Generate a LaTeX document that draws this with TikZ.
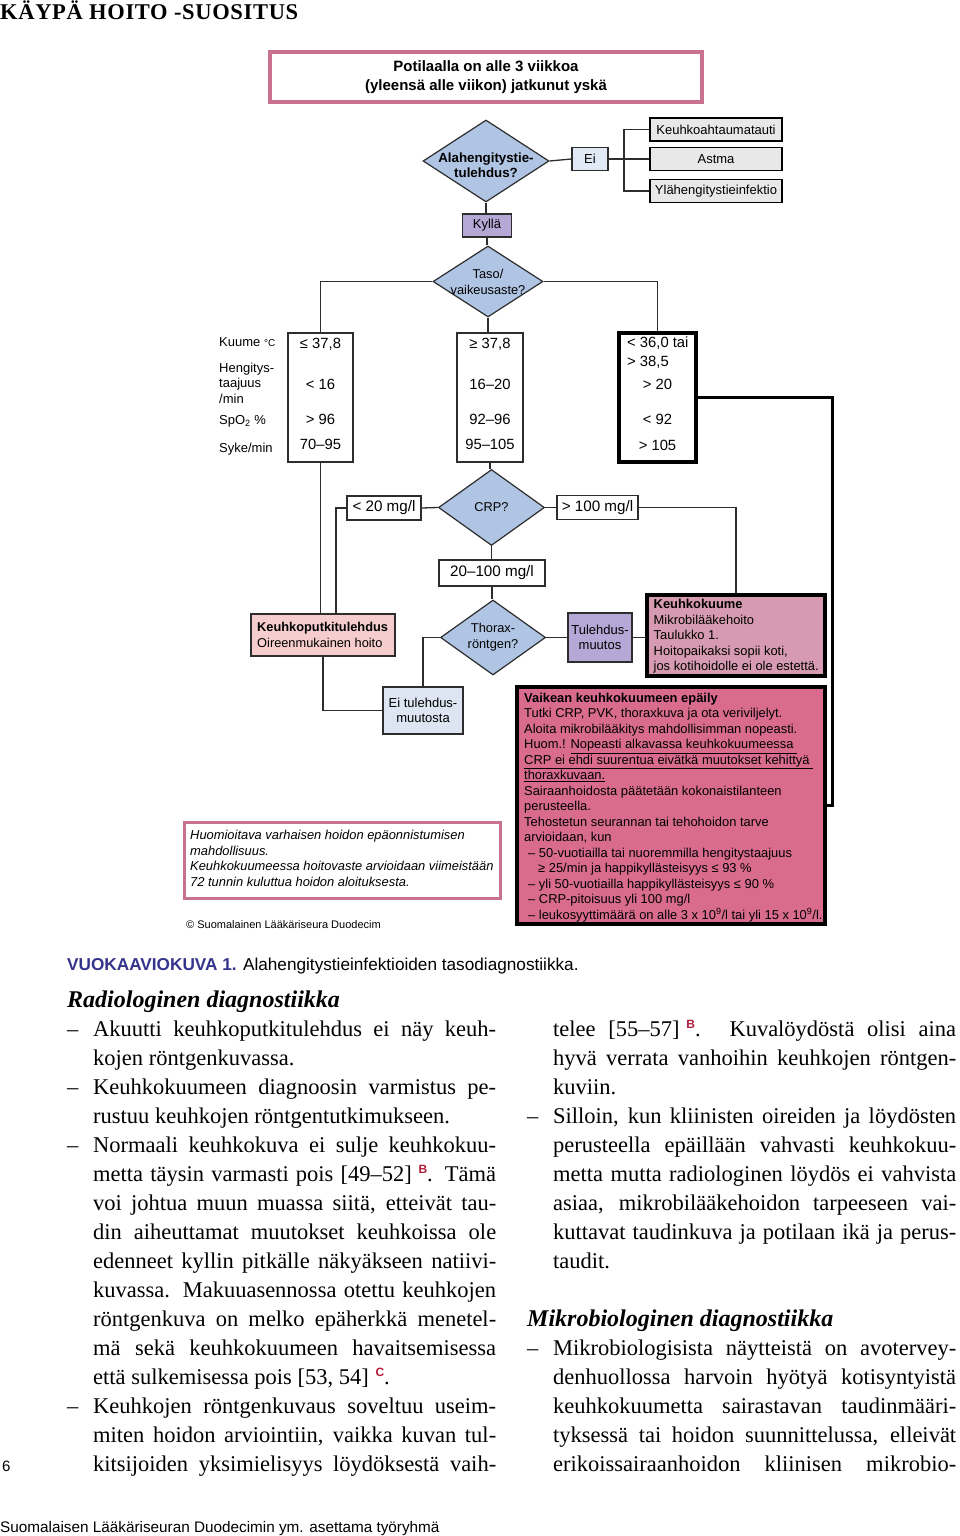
\documentclass[tikz,border=0pt]{standalone}
\usepackage{fontspec}
\setmainfont{Liberation Serif}
\setsansfont{Liberation Sans}
\newfontfamily\titlefont[LetterSpace=3]{Liberation Serif}
\usetikzlibrary{shapes.geometric}
\newcommand\fsz[2]{\fontsize{#1pt}{#2pt}\selectfont}
\definecolor{linec}{RGB}{45,45,45}
\definecolor{pinkb}{RGB}{201,114,143}
\definecolor{diafill}{RGB}{176,197,228}
\definecolor{eifill}{RGB}{226,233,246}
\definecolor{grayf}{RGB}{232,232,232}
\definecolor{purp}{RGB}{181,168,214}
\definecolor{kpfill}{RGB}{245,205,205}
\definecolor{eitfill}{RGB}{221,229,243}
\definecolor{kkfill}{RGB}{214,155,177}
\definecolor{vkfill}{RGB}{217,108,142}
\definecolor{capblue}{RGB}{52,52,140}
\definecolor{refred}{RGB}{176,30,60}
\newcommand\refsup[1]{\hspace{0.3em}\raisebox{8pt}{\sffamily\bfseries\fsz{12}{12}\textcolor{refred}{#1}}}
\newcommand\jline[3]{\node[bodyt] (#1) at (#2) {\makebox[403pt][s]{#3}};}
\newcommand\nline[3]{\node[bodyt] (#1) at (#2) {#3};}
\begin{document}
\begin{tikzpicture}[x=1pt,y=-1pt,
  every node/.style={inner sep=0pt},
  conn/.style={draw=linec, line width=1.3pt},
  box/.style={draw=linec, line width=1.2pt, font=\sffamily\fsz{13}{15.5}, align=center},
  dia/.style={diamond, draw=linec, line width=1.2pt, fill=diafill},
  dtext/.style={font=\sffamily\fsz{12.8}{16}, align=center},
  btext/.style={anchor=west, align=left},
  lab/.style={anchor=west, font=\sffamily\fsz{13}{15.5}, text height=0.8em, text depth=0.16em},
  val/.style={font=\sffamily\fsz{14.8}{16}, text height=0.75em, text depth=0.15em},
  mg/.style={box, font=\sffamily\fsz{15.2}{16}},
  bodyt/.style={anchor=base west, font=\fsz{22.5}{29}},
  head/.style={anchor=base west, font=\bfseries\itshape\fsz{24}{29}}
]
\useasboundingbox (0,0) rectangle (960,1536);
\fill[white] (0,0) rectangle (960,1536);

% title
\node[anchor=base west, font=\titlefont\bfseries\fsz{22.5}{25}] (title) at (0,20) {KÄYPÄ HOITO -SUOSITUS};

% top box
\node[box, draw=pinkb, line width=3.5pt, minimum width=432pt, minimum height=50pt, font=\sffamily\bfseries\fsz{15}{19}] (top) at (486,77) {Potilaalla on alle 3 viikkoa\\(yleensä alle viikon) jatkunut yskä};

% first decision
\node[dia, minimum width=126pt, minimum height=82pt] (d1) at (486,161) {};
\node[dtext, font=\sffamily\bfseries\fsz{13.3}{15}] (d1t) at (486,165.5) {Alahengitystie-\\tulehdus?};
\node[box, fill=eifill, minimum width=36pt, minimum height=23pt] (ei) at (590,159) {Ei};
\node[box, fill=grayf, line width=1.5pt, draw=black, minimum width=132pt, minimum height=23pt] (k1) at (716,129.5) {Keuhkoahtaumatauti};
\node[box, fill=grayf, line width=1.5pt, draw=black, minimum width=132pt, minimum height=23pt] (k2) at (716,159) {Astma};
\node[box, fill=grayf, line width=1.5pt, draw=black, minimum width=132pt, minimum height=23pt] (k3) at (716,191) {Ylähengitystieinfektio};
\coordinate (br) at (624,159);
\draw[conn] (d1.east) -- (ei.west);
\draw[conn] (ei.east) -- (k2.west);
\draw[conn] (k1.west) -| (br) |- (k3.west);

\node[box, fill=purp, minimum width=49pt, minimum height=23pt] (kylla) at (487,225.5) {Kyllä};
\draw[conn] (d1.south) -- (d1.south |- kylla.north);

% second decision
\node[dia, minimum width=110pt, minimum height=71pt] (d2) at (488,281.5) {};
\node[dtext] (d2t) at (488,281.5) {Taso/\\vaikeusaste?};
\draw[conn] (kylla.south) -- (kylla.south |- d2.north);

% value boxes
\node[box, minimum width=65pt, minimum height=129pt] (b1) at (320.5,397.5) {};
\node[box, minimum width=66pt, minimum height=129pt] (b2) at (490,397.5) {};
\node[box, draw=black, line width=3.5pt, minimum width=77pt, minimum height=129pt] (b3) at (657.5,397.5) {};
\draw[conn] (d2.west) -| (b1.north);
\draw[conn] (d2.east) -| (b3.north);
\draw[conn] (d2.south) -- (d2.south |- b2.north);

\node[lab] (lk) at (219,343) {Kuume {\fsz{10}{10}°C}};
\node[lab] (lh1) at (219,369) {Hengitys-};
\node[lab] (lh2) at (219,384) {taajuus};
\node[lab] (lh3) at (219,400) {/min};
\node[lab] (ls) at (219,421) {SpO\textsubscript{2} \%};
\node[lab] (lsy) at (219,449) {Syke/min};

\node[val] (v11) at (320.5,345) {≤ 37,8};
\node[val] (v12) at (320.5,386) {< 16};
\node[val] (v13) at (320.5,421) {> 96};
\node[val] (v14) at (320.5,446) {70–95};
\node[val] (v21) at (490,345) {≥ 37,8};
\node[val] (v22) at (490,386) {16–20};
\node[val] (v23) at (490,421) {92–96};
\node[val] (v24) at (490,446) {95–105};
\node[val, anchor=west] (v31) at (627,344) {< 36,0 tai};
\node[val, anchor=west] (v32) at (627,363) {> 38,5};
\node[val] (v33) at (657.5,386) {> 20};
\node[val] (v34) at (657.5,421) {< 92};
\node[val] (v35) at (657.5,447) {> 105};

% CRP
\node[dia, minimum width=106pt, minimum height=76pt] (crp) at (491.5,507.5) {};
\node[dtext] (crpt) at (491.5,507.5) {CRP?};
\draw[conn] (b2.south) -- (b2.south |- crp.north);
\node[mg, minimum width=74pt, minimum height=24pt] (lt20) at (384,508) {< 20 mg/l};
\node[mg, minimum width=81pt, minimum height=24pt] (gt100) at (597.5,507.5) {> 100 mg/l};
\node[mg, minimum width=106pt, minimum height=26pt] (mid) at (492,573) {20–100 mg/l};
\draw[conn] (crp.west) -- (lt20.east);
\draw[conn] (crp.east) -- (gt100.west);
\draw[conn] (crp.south) -- (crp.south |- mid.north);

% thorax
\node[dia, minimum width=105pt, minimum height=75pt] (thx) at (493,637.5) {};
\node[dtext] (thxt) at (493,637.5) {Thorax-\\röntgen?};
\draw[conn] (mid.south) -- (mid.south |- thx.north);
\node[box, fill=purp, minimum width=64pt, minimum height=49pt] (tm) at (600,637.5) {Tulehdus-\\muutos};
\node[box, fill=kkfill, draw=black, line width=3.5pt, minimum width=178pt, minimum height=81pt] (kk) at (736,635.5) {};
\node[btext, font=\sffamily\fsz{12.9}{15.5}] (kkt) at (653.5,636.5) {\textbf{Keuhkokuume}\\Mikrobilääkehoito\\Taulukko 1.\\Hoitopaikaksi sopii koti,\\jos kotihoidolle ei ole estettä.};
\draw[conn] (thx.east) -- (tm.west);
\draw[conn] (tm.east) -- (tm.east -| kk.west);
\draw[conn] (gt100.east) -| (kk.north);

\node[box, fill=kpfill, minimum width=144pt, minimum height=42pt] (kp) at (323,635) {};
\node[btext, font=\sffamily\fsz{12.8}{16}] (kpt) at (257,635) {\textbf{Keuhkoputkitulehdus}\\Oireenmukainen hoito};
\coordinate (kpx) at (336,0);
\draw[conn] (b1.south) -- (b1.south |- kp.north);
\draw[conn] (lt20.west) -| (kpx |- kp.north);

\node[box, fill=eitfill, minimum width=80pt, minimum height=47pt] (eit) at (423,710.5) {Ei tulehdus-\\muutosta};
\draw[conn] (thx.west) -| (eit.north);
\draw[conn] (kp.south) |- (eit.west);

% severe box
\node[box, fill=vkfill, draw=black, line width=3.5pt, minimum width=308pt, minimum height=237pt] (vk) at (671,805.5) {};
\node[btext, font=\sffamily\fsz{12.9}{15.5}] (vkt) at (524,807.5) {\textbf{Vaikean keuhkokuumeen epäily}\\
Tutki CRP, PVK, thoraxkuva ja ota veriviljelyt.\\
Aloita mikrobilääkitys mahdollisimman nopeasti.\\
Huom.! \underline{Nopeasti alkavassa keuhkokuumeessa\ }\\
\underline{CRP ei ehdi suurentua eivätkä muutokset kehittyä\ }\\
\underline{thoraxkuvaan.}\\
Sairaanhoidosta päätetään kokonaistilanteen\\
perusteella.\\
Tehostetun seurannan tai tehohoidon tarve\\
arvioidaan, kun\\
\hspace*{4pt}– 50-vuotiailla tai nuoremmilla hengitystaajuus\\
\hspace*{14pt}≥ 25/min ja happikyllästeisyys ≤ 93 \%\\
\hspace*{4pt}– yli 50-vuotiailla happikyllästeisyys ≤ 90 \%\\
\hspace*{4pt}– CRP-pitoisuus yli 100 mg/l\\
\hspace*{4pt}– leukosyyttimäärä on alle 3 x 10\textsuperscript{9}/l tai yli 15 x 10\textsuperscript{9}/l.};
\coordinate (rt) at (832,397.5);
\draw[line width=3pt] (b3.east) -- (rt) -- (rt |- vk.east) -- (vk.east);

\node[box, draw=pinkb, line width=3pt, minimum width=316pt, minimum height=76pt] (huom) at (342,860) {};
\node[btext, font=\sffamily\itshape\fsz{12.9}{15.7}] (huomt) at (190,858.5) {Huomioitava varhaisen hoidon epäonnistumisen\\mahdollisuus.\\Keuhkokuumeessa hoitovaste arvioidaan viimeistään\\72 tunnin kuluttua hoidon aloituksesta.};
\node[anchor=west, font=\sffamily\fsz{11}{13}] (copy) at (186,925) {© Suomalainen Lääkäriseura Duodecim};

% caption
\node[anchor=base west, font=\sffamily\fsz{17.2}{20}] (cap) at (67,970) {\textcolor{capblue}{\bfseries VUOKAAVIOKUVA 1.} Alahengitystieinfektioiden tasodiagnostiikka.};

% body left
\node[head] (h1) at (67,1007.7) {Radiologinen diagnostiikka};
\nline{bl0}{67,1036.7}{–}
\nline{bl2}{67,1094.7}{–}
\nline{bl4}{67,1152.7}{–}
\nline{bl13}{67,1413.7}{–}
\jline{l0}{93,1036.7}{Akuutti keuhkoputkitulehdus ei näy keuh-}
\nline{l1}{93,1065.7}{kojen röntgenkuvassa.}
\jline{l2}{93,1094.7}{Keuhkokuumeen diagnoosin varmistus pe-}
\nline{l3}{93,1123.7}{rustuu keuhkojen röntgentutkimukseen.}
\jline{l4}{93,1152.7}{Normaali keuhkokuva ei sulje keuhkokuu-}
\jline{l5}{93,1181.7}{metta täysin varmasti pois [49–52]\refsup{B}. Tämä}
\jline{l6}{93,1210.7}{voi johtua muun muassa siitä, etteivät tau-}
\jline{l7}{93,1239.7}{din aiheuttamat muutokset keuhkoissa ole}
\jline{l8}{93,1268.7}{edenneet kyllin pitkälle näkyäkseen natiivi-}
\jline{l9}{93,1297.7}{kuvassa. Makuuasennossa otettu keuhkojen}
\jline{l10}{93,1326.7}{röntgenkuva on melko epäherkkä menetel-}
\jline{l11}{93,1355.7}{mä sekä keuhkokuumeen havaitsemisessa}
\nline{l12}{93,1384.7}{että sulkemisessa pois [53, 54]\refsup{C}.}
\jline{l13}{93,1413.7}{Keuhkojen röntgenkuvaus soveltuu useim-}
\jline{l14}{93,1442.7}{miten hoidon arviointiin, vaikka kuvan tul-}
\jline{l15}{93,1471.7}{kitsijoiden yksimielisyys löydöksestä vaih-}

% body right
\jline{r0}{553,1036.7}{telee [55–57]\refsup{B}. Kuvalöydöstä olisi aina}
\jline{r1}{553,1065.7}{hyvä verrata vanhoihin keuhkojen röntgen-}
\nline{r2}{553,1094.7}{kuviin.}
\nline{br3}{527,1123.7}{–}
\jline{r3}{553,1123.7}{Silloin, kun kliinisten oireiden ja löydösten}
\jline{r4}{553,1152.7}{perusteella epäillään vahvasti keuhkokuu-}
\jline{r5}{553,1181.7}{metta mutta radiologinen löydös ei vahvista}
\jline{r6}{553,1210.7}{asiaa, mikrobilääkehoidon tarpeeseen vai-}
\jline{r7}{553,1239.7}{kuttavat taudinkuva ja potilaan ikä ja perus-}
\nline{r8}{553,1268.7}{taudit.}
\node[head] (h2) at (527,1326.7) {Mikrobiologinen diagnostiikka};
\nline{br11}{527,1355.7}{–}
\jline{r11}{553,1355.7}{Mikrobiologisista näytteistä on avotervey-}
\jline{r12}{553,1384.7}{denhuollossa harvoin hyötyä kotisyntyistä}
\jline{r13}{553,1413.7}{keuhkokuumetta sairastavan taudinmääri-}
\jline{r14}{553,1442.7}{tyksessä tai hoidon suunnittelussa, elleivät}
\jline{r15}{553,1471.7}{erikoissairaanhoidon kliinisen mikrobio-}

\node[anchor=base west, font=\sffamily\fsz{15}{16}] (pg) at (2,1471) {6};
\node[anchor=base west, font=\sffamily\fsz{15.3}{16}] (foot) at (0,1532) {Suomalaisen Lääkäriseuran Duodecimin ym. asettama työryhmä};
\end{tikzpicture}
\end{document}
